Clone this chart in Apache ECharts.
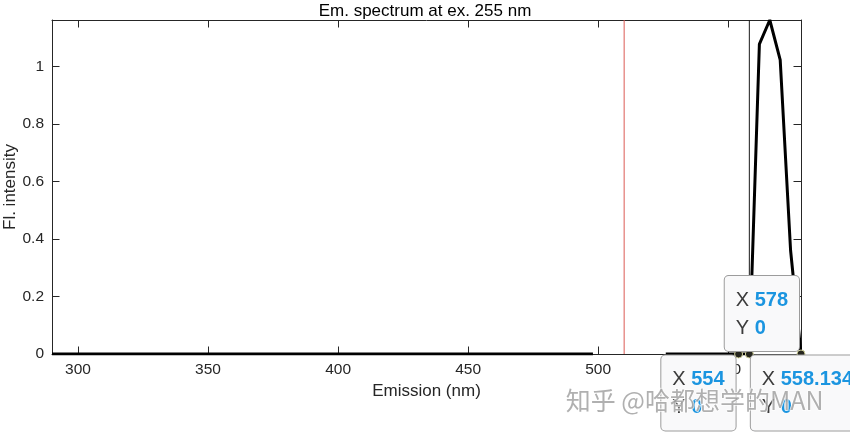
<!DOCTYPE html>
<html><head><meta charset="utf-8">
<script src="https://cdn.jsdelivr.net/npm/echarts@6/dist/echarts.min.js"></script>
<style>html,body{margin:0;padding:0;background:#fff}#c{width:850px;height:436px}</style>
</head><body><div id="c"></div>
<script>
// ---- data ----
const emission  = [290, 498, 510, 526, 554, 558.134, 562, 566, 570, 574, 578];
const intensity = [0, 0, null, 0, 0, 0, 1.078, 1.162, 1.023, 0.36, 0];
const xTicks = [300, 350, 400, 450, 500, 550];
const yTicks = [0, 0.2, 0.4, 0.6, 0.8, 1];
const xLimits = [290, 578];
const yLimits = [0, 1.162];
const excitationLine = 510;
const cursorLine = 558.134;
const tipX = [578, 554, 558.134];
const tipY = [0, 0, 0];
const titleText = 'Em. spectrum at ex. 255 nm';
const xName = 'Emission (nm)';
const yName = 'Fl. intensity';
const watermark = '知乎 @哈都想学的MAN';

// ---- styling ----
const FONT = 'Liberation Sans, Arial, Helvetica, sans-serif';
const AX = '#262626';
const tipPlacement = [
  {position: [2.5, 1.5], align: 'right', verticalAlign: 'bottom'},
  {position: [1.5, 6], align: 'right', verticalAlign: 'top'},
  {position: [6, 6], align: 'left', verticalAlign: 'top'}
];

const lineData = emission.map((x, i) => [x, intensity[i] === null ? '-' : intensity[i]]);
const tipData = tipX.map((x, i) => ({value: [x, tipY[i]], label: tipPlacement[i]}));
const vline = x => [[x, yLimits[0]], [x, yLimits[1]]];

function baseAxis(extra) {
  return Object.assign({
    type: 'value',
    splitLine: {show: false},
    nameMoveOverlap: false,
    axisLine: {show: true, onZero: false, lineStyle: {color: AX, width: 1}},
  }, extra);
}

const chart = echarts.init(document.getElementById('c'), null, {renderer: 'canvas'});
chart.setOption({
  animation: false,
  backgroundColor: '#fff',
  title: {
    text: titleText, left: 'center', top: -2,
    textStyle: {fontSize: 17, fontWeight: 'normal', color: '#000', fontFamily: FONT}
  },
  grid: {left: 52, right: 49, top: 20, bottom: 82, containLabel: false, outerBoundsMode: 'none'},
  xAxis: [
    baseAxis({
      position: 'bottom', min: xLimits[0], max: xLimits[1],
      axisTick: {show: true, inside: true, length: 7.5, customValues: xTicks, lineStyle: {color: AX}},
      axisLabel: {customValues: xTicks, fontSize: 15.5, color: AX, margin: 8, fontFamily: FONT},
      name: xName, nameLocation: 'middle', nameGap: 29,
      nameTextStyle: {fontSize: 17, color: AX, fontFamily: FONT}
    }),
    baseAxis({
      position: 'top', min: xLimits[0], max: xLimits[1],
      axisTick: {show: true, inside: true, length: 7.5, customValues: xTicks, lineStyle: {color: AX}},
      axisLabel: {show: false}
    })
  ],
  yAxis: [
    baseAxis({
      position: 'left', min: yLimits[0], max: yLimits[1],
      axisTick: {show: true, inside: true, length: 7.5, customValues: yTicks, lineStyle: {color: AX}},
      axisLabel: {customValues: yTicks, fontSize: 15.5, color: AX, margin: 8, fontFamily: FONT},
      name: yName, nameLocation: 'middle', nameGap: 33,
      nameTextStyle: {fontSize: 17, color: AX, fontFamily: FONT}
    }),
    baseAxis({
      position: 'right', min: yLimits[0], max: yLimits[1],
      axisTick: {show: true, inside: true, length: 7.5, customValues: yTicks, lineStyle: {color: AX}},
      axisLabel: {show: false}
    })
  ],
  series: [
    {
      type: 'line', data: vline(excitationLine), symbol: 'none', silent: true, z: 1,
      lineStyle: {color: '#dc5a55', width: 1}
    },
    {
      type: 'line', data: vline(cursorLine), symbol: 'none', silent: true, z: 1,
      lineStyle: {color: '#1a1a1a', width: 1}
    },
    {
      type: 'line', data: lineData, showSymbol: false, symbol: 'none', connectNulls: false,
      lineStyle: {color: '#000', width: 3}, z: 3, silent: true
    },
    {
      type: 'scatter', data: tipData, symbol: 'circle', symbolSize: 8, zlevel: 1, z: 5, silent: true,
      itemStyle: {color: '#26261e', borderColor: '#cfcf98', borderWidth: 1, opacity: 1},
      label: {
        show: true,
        formatter: p => '{k|X }{v|' + p.value[0] + '}\n{k|Y }{v|' + p.value[1] + '}',
        fontSize: 20, lineHeight: 28, fontFamily: FONT, color: '#3c3c3c',
        backgroundColor: '#f9f9fa', borderColor: '#9c9c9c', borderWidth: 1, borderRadius: 4,
        padding: [10, 11, 9, 11],
        rich: {
          k: {fontSize: 20, lineHeight: 28, color: '#3c3c3c', fontFamily: FONT, align: 'left'},
          v: {fontSize: 20, lineHeight: 28, color: '#1b95e0', fontWeight: 'bold', fontFamily: FONT, align: 'left'}
        }
      }
    }
  ],
  graphic: [{
    type: 'text', left: 565, top: 387, zlevel: 2, z: 100, silent: true,
    style: {
      text: watermark, fontSize: 25, fill: 'rgba(150,150,150,0.75)',
      stroke: 'rgba(255,255,255,0.8)', lineWidth: 1.5,
      fontFamily: 'Noto Sans CJK SC, sans-serif'
    }
  }]
});
</script>
</body></html>
